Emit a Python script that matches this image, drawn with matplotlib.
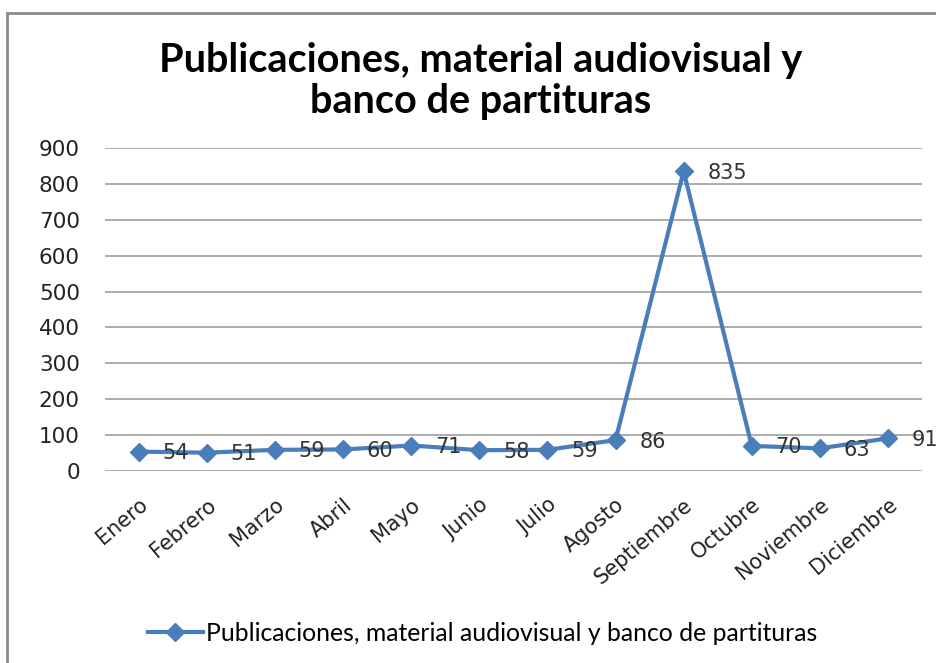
import matplotlib.pyplot as plt
from matplotlib.patches import Rectangle
import numpy as np

meses = ["Enero", "Febrero", "Marzo", "Abril", "Mayo", "Junio", "Julio",
         "Agosto", "Septiembre", "Octubre", "Noviembre", "Diciembre"]
valores = [54, 51, 59, 60, 71, 58, 59, 86, 835, 70, 63, 91]
serie = "Publicaciones, material audiovisual y banco de partituras"
titulo = "Publicaciones, material audiovisual y\nbanco de partituras"

color = "#4a7ebb"

fig = plt.figure(figsize=(9.36, 6.63), dpi=100)
ax = fig.add_axes([0.112, 0.2896, 0.873, 0.4872])

x = np.arange(len(meses))
ax.plot(x, valores, color=color, lw=3, marker="D", markersize=9.5, label=serie)
for xi, v in zip(x, valores):
    ax.annotate(str(v), (xi, v), xytext=(17, -1), textcoords="offset points",
                va="center", ha="left", fontsize=15, color="#333333")

ax.set_xlim(-0.5, 11.5)
ax.set_ylim(0, 900)
ax.set_yticks(range(0, 901, 100))
ax.set_xticks(x)
ax.set_xticklabels(meses, rotation=40, ha="right", rotation_mode="anchor", fontsize=15)
ax.tick_params(axis="y", labelsize=15.5, length=0, pad=18, labelcolor="#222222")
ax.tick_params(axis="x", length=0, pad=17, labelcolor="#222222")
ax.grid(axis="y", color="#a0a0a0", lw=1.2)
ax.set_axisbelow(True)
for s in ax.spines.values():
    s.set_visible(False)

fig.text(0.513, 0.878, titulo, ha="center", va="center", fontsize=28.5,
         fontweight="bold", family="Lato", linespacing=1.15)

ax.legend(loc="center", bbox_to_anchor=(0.516, 0.045), bbox_transform=fig.transFigure,
          frameon=False, prop={"family": "Lato", "size": 17.8}, handlelength=2.2,
          handletextpad=0.15)

fig.patches.append(Rectangle((7 / 936, -0.1), 1.1, 1 - 13 / 663 + 0.1,
                             transform=fig.transFigure, fill=False,
                             edgecolor="#8a8a8a", lw=2))

fig.savefig("out.png", dpi=100)
